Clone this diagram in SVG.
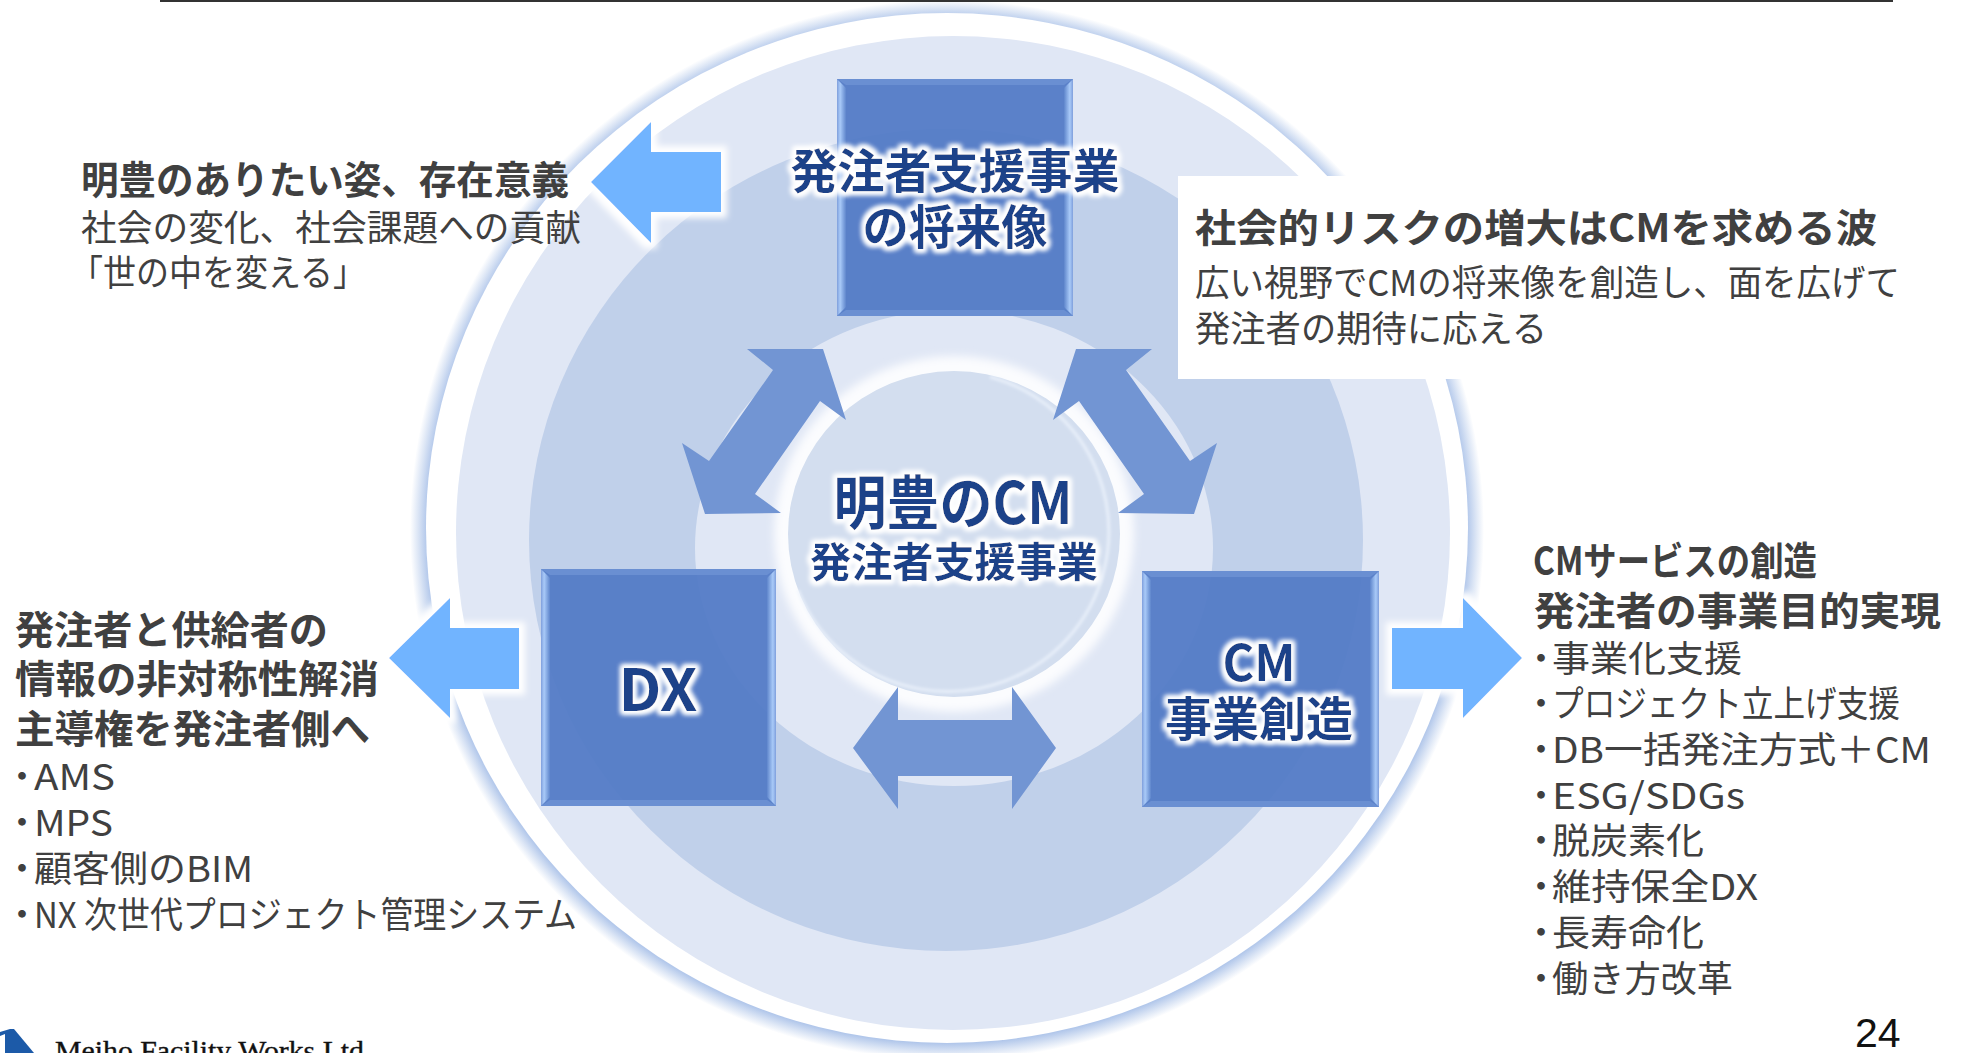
<svg xmlns="http://www.w3.org/2000/svg" width="1961" height="1053" viewBox="0 0 1961 1053">
<style>
.d{font-family:"Noto Sans CJK JP","Noto Sans",sans-serif;fill:#404040;font-size:36px}
.b{font-weight:700;font-size:39px}
.t{font-family:"Noto Sans CJK JP","Noto Sans",sans-serif;fill:#1f4389;font-weight:700;text-anchor:middle;filter:url(#halo)}
.box{fill:#527ac6;fill-opacity:.94}
.sl{fill:url(#bevelL)}
.sr{fill:url(#bevelR)}
.tb{fill:#6a8fd2}
.bl{fill:#71b4ff;filter:url(#wg)}
.ar{fill:#7295d3}
</style>
<defs>
<filter id="halo" x="-15%" y="-30%" width="130%" height="160%">
<feMorphology in="SourceAlpha" operator="dilate" radius="2.5" result="m"/>
<feGaussianBlur in="m" stdDeviation="2.5" result="g"/>
<feFlood flood-color="#fff"/>
<feComposite in2="g" operator="in" result="w"/>
<feMerge><feMergeNode in="w"/><feMergeNode in="w"/><feMergeNode in="SourceGraphic"/></feMerge>
</filter>
<filter id="wg" x="-20%" y="-20%" width="140%" height="140%">
<feMorphology in="SourceAlpha" operator="dilate" radius="6" result="m"/>
<feGaussianBlur in="m" stdDeviation="3" result="g"/>
<feFlood flood-color="#fff"/>
<feComposite in2="g" operator="in" result="w"/>
<feMerge><feMergeNode in="w"/><feMergeNode in="SourceGraphic"/></feMerge>
</filter>
<filter id="b3" x="-5%" y="-5%" width="110%" height="110%"><feGaussianBlur stdDeviation="4"/></filter>
<filter id="b1" x="-5%" y="-5%" width="110%" height="110%"><feGaussianBlur stdDeviation="1.5"/></filter>
<filter id="b05" x="-5%" y="-5%" width="110%" height="110%"><feGaussianBlur stdDeviation=".7"/></filter>
<linearGradient id="bevelL" x1="0" y1="0" x2="1" y2="0"><stop offset="0" stop-color="#7f9fdc"/><stop offset=".35" stop-color="#a9caf8"/><stop offset="1" stop-color="#5f86cc"/></linearGradient>
<linearGradient id="bevelR" x1="1" y1="0" x2="0" y2="0"><stop offset="0" stop-color="#7f9fdc"/><stop offset=".35" stop-color="#a9caf8"/><stop offset="1" stop-color="#5f86cc"/></linearGradient>
<radialGradient id="edge"><stop offset=".965" stop-color="#a8c0e8"/><stop offset=".985" stop-color="#dbe5f5"/><stop offset="1" stop-color="#fff"/></radialGradient>
</defs>
<rect width="1961" height="1053" fill="#fff"/>
<g id="rings">
<ellipse cx="947" cy="530" rx="537" ry="530" fill="url(#edge)"/>
<ellipse cx="947" cy="528" rx="521" ry="515" fill="#fff" filter="url(#b05)"/>
<ellipse cx="953" cy="533" rx="497" ry="497" fill="#e0e7f5"/>
<ellipse cx="946" cy="540" rx="417" ry="411" fill="#c0d0ea"/>
<ellipse cx="954" cy="548" rx="259" ry="238" fill="#e0e7f5"/>
<ellipse cx="954" cy="534" rx="180" ry="178" fill="#fbfcfe" filter="url(#b3)"/>
<ellipse cx="954" cy="534" rx="166" ry="163" fill="#d3deef" filter="url(#b05)"/>
<path d="M990,377 A161 160 0 1 1 798,590" fill="none" stroke="#eef4fc" stroke-width="3" stroke-opacity=".8" filter="url(#b1)"/>
</g>
<rect id="top-rule" x="160" y="0" width="1733" height="2" fill="#333"/>
<rect id="note-bg" x="1178" y="176" width="720" height="203" fill="#fff"/>
<g id="connectors">
<polygon class="bl" points="591,182 651,122 651,152 721,152 721,212 651,212 651,243"/>
<polygon class="bl" points="389,658 450,598 450,628 519,628 519,689 450,689 450,718"/>
<polygon class="bl" points="1522,658 1463,598 1463,628 1392,628 1392,689 1463,689 1463,718"/>
<polygon class="ar" points="747,349 823,349 846,420 820,401 755,494 781,513 705,514 682,443 709,461 773,370"/>
<polygon class="ar" points="1152,349 1076,349 1053,420 1079,401 1144,494 1118,513 1194,514 1217,443 1190,461 1126,370"/>
<polygon class="ar" points="853,748 898,687 898,720 1012,720 1012,687 1056,748 1012,809 1012,776 898,776 898,809"/>
</g>
<g id="node-top">
<rect class="box" x="837" y="79" width="236" height="237"/>
<polygon class="tb" points="837,79 1073,79 1064,85 846,85"/><polygon class="tb" points="837,316 1073,316 1064,310 846,310"/>
<polygon class="sl" points="837,79 846,88 846,307 837,316"/><polygon class="sr" points="1073,79 1064,88 1064,307 1073,316"/>
<text class="t" font-size="47" x="955" y="188" textLength="329" lengthAdjust="spacingAndGlyphs">発注者支援事業</text>
<text class="t" font-size="47" x="955" y="244" textLength="185" lengthAdjust="spacingAndGlyphs">の将来像</text>
</g>
<g id="node-dx">
<rect class="box" x="541" y="569" width="235" height="237"/>
<polygon class="tb" points="541,569 776,569 767,575 550,575"/><polygon class="tb" points="541,806 776,806 767,800 550,800"/>
<polygon class="sl" points="541,569 550,578 550,797 541,806"/><polygon class="sr" points="776,569 767,578 767,797 776,806"/>
<text class="t" font-size="58" x="658" y="711" textLength="79" lengthAdjust="spacingAndGlyphs">DX</text>
</g>
<g id="node-cm">
<rect class="box" x="1142" y="571" width="237" height="236"/>
<polygon class="tb" points="1142,571 1379,571 1370,577 1151,577"/><polygon class="tb" points="1142,807 1379,807 1370,801 1151,801"/>
<polygon class="sl" points="1142,571 1151,580 1151,798 1142,807"/><polygon class="sr" points="1379,571 1370,580 1370,798 1379,807"/>
<text class="t" font-size="50" x="1259" y="681" textLength="73" lengthAdjust="spacingAndGlyphs">CM</text>
<text class="t" font-size="47" x="1259" y="736" textLength="188" lengthAdjust="spacingAndGlyphs">事業創造</text>
</g>
<g id="node-center">
<text class="t" font-size="58" x="953" y="524" textLength="239" lengthAdjust="spacingAndGlyphs">明豊のCM</text>
<text class="t" font-size="41" x="954" y="577" textLength="288" lengthAdjust="spacingAndGlyphs">発注者支援事業</text>
</g>
<g id="text-upper-left">
<text class="d b" x="81" y="194" textLength="488" lengthAdjust="spacingAndGlyphs">明豊のありたい姿、存在意義</text>
<text class="d" x="81" y="241" textLength="500" lengthAdjust="spacingAndGlyphs">社会の変化、社会課題への貢献</text>
<text class="d" x="70" y="286" textLength="296" lengthAdjust="spacingAndGlyphs">「世の中を変える」</text>
</g>
<g id="text-upper-right">
<text class="d b" x="1195" y="242" textLength="682" lengthAdjust="spacingAndGlyphs">社会的リスクの増大はCMを求める波</text>
<text class="d" x="1195" y="296" textLength="705" lengthAdjust="spacingAndGlyphs">広い視野でCMの将来像を創造し、面を広げて</text>
<text class="d" x="1195" y="342" textLength="352" lengthAdjust="spacingAndGlyphs">発注者の期待に応える</text>
</g>
<g id="text-left">
<text class="d b" x="15" y="644" textLength="313" lengthAdjust="spacingAndGlyphs">発注者と供給者の</text>
<text class="d b" x="15" y="693" textLength="364" lengthAdjust="spacingAndGlyphs">情報の非対称性解消</text>
<text class="d b" x="15" y="743" textLength="355" lengthAdjust="spacingAndGlyphs">主導権を発注者側へ</text>
<text class="d" x="4" y="790">・<tspan x="34" textLength="81" lengthAdjust="spacingAndGlyphs">AMS</tspan></text>
<text class="d" x="4" y="836">・<tspan x="34" textLength="79" lengthAdjust="spacingAndGlyphs">MPS</tspan></text>
<text class="d" x="4" y="882">・<tspan x="34" textLength="219" lengthAdjust="spacingAndGlyphs">顧客側のBIM</tspan></text>
<text class="d" x="4" y="928">・<tspan x="34" textLength="543" lengthAdjust="spacingAndGlyphs">NX 次世代プロジェクト管理システム</tspan></text>
</g>
<g id="text-right">
<text class="d b" x="1533" y="575" textLength="284" lengthAdjust="spacingAndGlyphs">CMサービスの創造</text>
<text class="d b" x="1534" y="625" textLength="407" lengthAdjust="spacingAndGlyphs">発注者の事業目的実現</text>
<text class="d" x="1523" y="672">・<tspan x="1552" textLength="190" lengthAdjust="spacingAndGlyphs">事業化支援</tspan></text>
<text class="d" x="1523" y="717">・<tspan x="1552" textLength="348" lengthAdjust="spacingAndGlyphs">プロジェクト立上げ支援</tspan></text>
<text class="d" x="1523" y="763">・<tspan x="1552" textLength="379" lengthAdjust="spacingAndGlyphs">DB一括発注方式＋CM</tspan></text>
<text class="d" x="1523" y="809">・<tspan x="1552" textLength="193" lengthAdjust="spacingAndGlyphs">ESG/SDGs</tspan></text>
<text class="d" x="1523" y="854">・<tspan x="1552" textLength="152" lengthAdjust="spacingAndGlyphs">脱炭素化</tspan></text>
<text class="d" x="1523" y="900">・<tspan x="1552" textLength="206" lengthAdjust="spacingAndGlyphs">維持保全DX</tspan></text>
<text class="d" x="1523" y="946">・<tspan x="1552" textLength="152" lengthAdjust="spacingAndGlyphs">長寿命化</tspan></text>
<text class="d" x="1523" y="992">・<tspan x="1552" textLength="181" lengthAdjust="spacingAndGlyphs">働き方改革</tspan></text>
</g>
<g id="footer">
<polygon points="0,1032 10,1029 14,1029 34,1053 0,1053" fill="#1c5aa8"/>
<polygon points="0,1036 5,1034 5,1053 0,1053" fill="#fff"/>
<text x="55" y="1060" font-family="'Liberation Serif',serif" font-size="28" fill="#111" stroke="#111" stroke-width=".4" textLength="309" lengthAdjust="spacingAndGlyphs">Meiho Facility Works Ltd</text>
<text x="1855" y="1047" font-family="'Liberation Sans',sans-serif" font-size="41" fill="#111">24</text>
</g>
</svg>
